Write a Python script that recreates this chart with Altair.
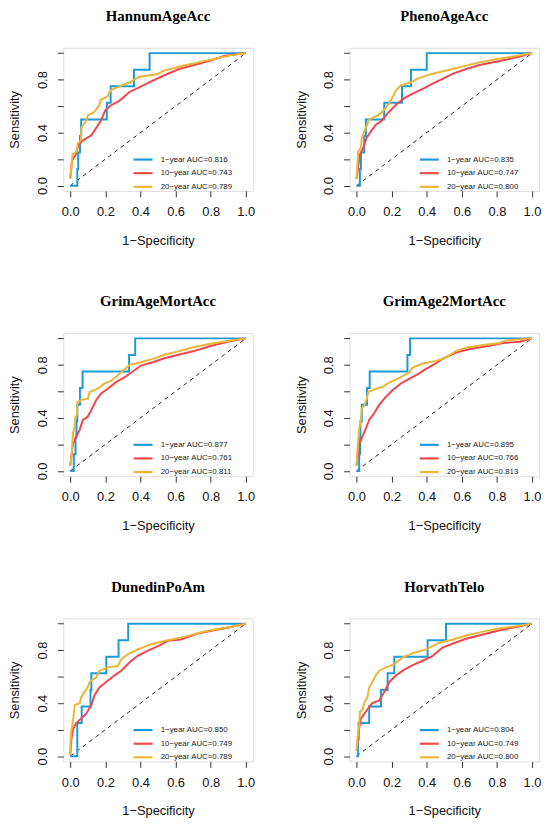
import altair as alt
import pandas as pd

BLUE = "#1C9AD6"
RED = "#EF474C"
YELLOW = "#EBB536"

titles = ["HannumAgeAcc", "PhenoAgeAcc", "GrimAgeMortAcc",
          "GrimAge2MortAcc", "DunedinPoAm", "HorvathTelo"]
auc_1y = ["0.816", "0.835", "0.877", "0.895", "0.850", "0.804"]
auc_10y = ["0.743", "0.747", "0.761", "0.766", "0.749", "0.749"]
auc_20y = ["0.789", "0.800", "0.811", "0.813", "0.789", "0.800"]

step8_y = [0, 0, 0.125, 0.125, 0.25, 0.25, 0.375, 0.375, 0.5, 0.5,
           0.625, 0.625, 0.75, 0.75, 0.875, 0.875, 1, 1]

# HannumAgeAcc
hannum_1y_x = [0, 0.04, 0.04, 0.045, 0.045, 0.055, 0.055, 0.062, 0.062, 0.208,
               0.208, 0.23, 0.23, 0.363, 0.363, 0.452, 0.452, 1]
hannum_1y_y = step8_y
hannum_10y_x = [0, 0.01, 0.03, 0.045, 0.07, 0.12, 0.145, 0.174, 0.2, 0.23,
                0.28, 0.335, 0.39, 0.467, 0.54, 0.62, 0.69, 0.79, 0.88, 1]
hannum_10y_y = [0.055, 0.19, 0.23, 0.305, 0.34, 0.38, 0.43, 0.49, 0.57, 0.605,
                0.64, 0.705, 0.74, 0.79, 0.835, 0.88, 0.905, 0.94, 0.98, 1]
hannum_20y_x = [0, 0.013, 0.036, 0.043, 0.06, 0.064, 0.09, 0.1, 0.136, 0.165,
                0.174, 0.21, 0.23, 0.29, 0.34, 0.39, 0.49, 0.54, 0.64, 0.73,
                0.83, 0.92, 1]
hannum_20y_y = [0.055, 0.24, 0.255, 0.32, 0.34, 0.44, 0.49, 0.53, 0.555, 0.605,
                0.65, 0.67, 0.72, 0.755, 0.78, 0.82, 0.84, 0.87, 0.905, 0.93,
                0.96, 0.985, 1]

# PhenoAgeAcc
pheno_1y_x = [0, 0.019, 0.019, 0.025, 0.025, 0.044, 0.044, 0.053, 0.053, 0.158,
              0.158, 0.259, 0.259, 0.31, 0.31, 0.40, 0.40, 1]
pheno_1y_y = step8_y
pheno_10y_x = [0, 0.011, 0.019, 0.038, 0.057, 0.082, 0.11, 0.14, 0.177, 0.225,
               0.272, 0.32, 0.377, 0.434, 0.49, 0.55, 0.625, 0.7, 0.815, 0.93, 1]
pheno_10y_y = [0.05, 0.16, 0.235, 0.285, 0.36, 0.41, 0.46, 0.485, 0.545, 0.61,
               0.66, 0.695, 0.73, 0.77, 0.805, 0.845, 0.88, 0.91, 0.94, 0.975, 1]
pheno_20y_x = [0, 0.01, 0.025, 0.03, 0.044, 0.057, 0.072, 0.12, 0.15, 0.187,
               0.225, 0.253, 0.31, 0.35, 0.434, 0.53, 0.606, 0.7, 0.8, 0.89, 1]
pheno_20y_y = [0.05, 0.26, 0.285, 0.36, 0.41, 0.45, 0.5, 0.53, 0.56, 0.62,
               0.72, 0.757, 0.78, 0.81, 0.845, 0.875, 0.9, 0.93, 0.955, 0.975, 1]

# GrimAgeMortAcc
grim_1y_x = [0, 0.02, 0.02, 0.03, 0.03, 0.035, 0.035, 0.04, 0.04, 0.055,
             0.055, 0.07, 0.07, 0.335, 0.335, 0.37, 0.37, 1]
grim_1y_y = step8_y
grim_10y_x = [0, 0.006, 0.015, 0.034, 0.053, 0.072, 0.1, 0.12, 0.148, 0.176,
              0.214, 0.26, 0.31, 0.356, 0.403, 0.47, 0.536, 0.61, 0.706, 0.8,
              0.896, 1]
grim_10y_y = [0.04, 0.11, 0.2, 0.26, 0.31, 0.385, 0.41, 0.46, 0.535, 0.585,
              0.62, 0.67, 0.707, 0.75, 0.795, 0.82, 0.85, 0.875, 0.905, 0.943,
              0.975, 1]
grim_20y_x = [0, 0.01, 0.015, 0.025, 0.028, 0.038, 0.04, 0.0625, 0.1, 0.11,
              0.157, 0.195, 0.233, 0.27, 0.29, 0.337, 0.403, 0.47, 0.545, 0.61,
              0.706, 0.8, 0.896, 1]
grim_20y_y = [0.04, 0.16, 0.285, 0.335, 0.4, 0.42, 0.52, 0.535, 0.545, 0.595,
              0.62, 0.66, 0.68, 0.72, 0.745, 0.8, 0.82, 0.845, 0.88, 0.9,
              0.935, 0.96, 0.98, 1]

# GrimAge2MortAcc
grim2_1y_x = [0, 0.015, 0.015, 0.02, 0.02, 0.022, 0.022, 0.03, 0.03, 0.06,
              0.06, 0.075, 0.075, 0.29, 0.29, 0.305, 0.305, 1]
grim2_1y_y = step8_y
grim2_10y_x = [0, 0.006, 0.015, 0.034, 0.053, 0.072, 0.1, 0.13, 0.168, 0.206,
               0.253, 0.3, 0.35, 0.396, 0.444, 0.49, 0.568, 0.644, 0.74, 0.834,
               0.93, 1]
grim2_10y_y = [0.04, 0.11, 0.2, 0.26, 0.32, 0.385, 0.435, 0.5, 0.56, 0.61,
               0.66, 0.695, 0.73, 0.77, 0.805, 0.845, 0.893, 0.92, 0.94, 0.965,
               0.975, 1]
grim2_20y_x = [0, 0.006, 0.015, 0.025, 0.03, 0.044, 0.057, 0.067, 0.11, 0.149,
               0.177, 0.206, 0.253, 0.3, 0.32, 0.377, 0.453, 0.51, 0.568, 0.625,
               0.72, 0.815, 0.853, 1]
grim2_20y_y = [0.04, 0.17, 0.31, 0.385, 0.47, 0.5, 0.535, 0.595, 0.62, 0.633,
               0.66, 0.68, 0.707, 0.745, 0.78, 0.81, 0.83, 0.855, 0.905, 0.93,
               0.95, 0.965, 0.985, 1]

# DunedinPoAm
dunedin_1y_x = [0, 0.04, 0.04, 0.065, 0.065, 0.115, 0.115, 0.12, 0.12, 0.205,
                0.205, 0.275, 0.275, 0.33, 0.33, 1]
dunedin_1y_y = [0, 0, 0.25, 0.25, 0.375, 0.375, 0.5, 0.5, 0.625, 0.625,
                0.75, 0.75, 0.875, 0.875, 1, 1]
dunedin_10y_x = [0, 0.006, 0.015, 0.034, 0.0625, 0.09, 0.12, 0.138, 0.167, 0.205,
                 0.252, 0.29, 0.337, 0.384, 0.44, 0.5, 0.555, 0.63, 0.725, 0.82,
                 0.915, 1]
dunedin_10y_y = [0.01, 0.125, 0.2, 0.25, 0.285, 0.32, 0.385, 0.46, 0.52, 0.56,
                 0.61, 0.645, 0.707, 0.757, 0.795, 0.83, 0.87, 0.88, 0.925, 0.95,
                 0.975, 1]
dunedin_20y_x = [0, 0.002, 0.006, 0.015, 0.025, 0.053, 0.0625, 0.08, 0.1, 0.11,
                 0.148, 0.167, 0.214, 0.27, 0.29, 0.328, 0.384, 0.46, 0.555, 0.65,
                 0.744, 0.84, 0.934, 1]
dunedin_20y_y = [0.01, 0.11, 0.19, 0.26, 0.385, 0.4, 0.445, 0.485, 0.52, 0.56,
                 0.595, 0.645, 0.67, 0.68, 0.73, 0.77, 0.805, 0.845, 0.875, 0.9,
                 0.935, 0.96, 0.98, 1]

# HorvathTelo
horvath_1y_x = [0, 0.008, 0.008, 0.012, 0.012, 0.072, 0.072, 0.139, 0.139, 0.177,
                0.177, 0.215, 0.215, 0.405, 0.405, 0.51, 0.51, 1]
horvath_1y_y = step8_y
horvath_10y_x = [0, 0.006, 0.015, 0.025, 0.053, 0.072, 0.09, 0.13, 0.158, 0.187,
                 0.225, 0.272, 0.32, 0.377, 0.434, 0.49, 0.55, 0.625, 0.72, 0.815,
                 0.91, 1]
horvath_10y_y = [0.04, 0.11, 0.21, 0.285, 0.335, 0.372, 0.4, 0.42, 0.485, 0.56,
                 0.61, 0.653, 0.687, 0.72, 0.757, 0.82, 0.85, 0.886, 0.918, 0.95,
                 0.975, 1]
horvath_20y_x = [0, 0.006, 0.015, 0.019, 0.034, 0.044, 0.063, 0.072, 0.09, 0.11,
                 0.13, 0.168, 0.215, 0.263, 0.32, 0.396, 0.472, 0.55, 0.625, 0.72,
                 0.815, 0.91, 1]
horvath_20y_y = [0.04, 0.14, 0.235, 0.335, 0.35, 0.4, 0.45, 0.52, 0.56, 0.61,
                 0.645, 0.67, 0.695, 0.745, 0.777, 0.806, 0.856, 0.88, 0.91, 0.94,
                 0.965, 0.98, 1]

curves = [
    [(hannum_1y_x, hannum_1y_y), (hannum_10y_x, hannum_10y_y), (hannum_20y_x, hannum_20y_y)],
    [(pheno_1y_x, pheno_1y_y), (pheno_10y_x, pheno_10y_y), (pheno_20y_x, pheno_20y_y)],
    [(grim_1y_x, grim_1y_y), (grim_10y_x, grim_10y_y), (grim_20y_x, grim_20y_y)],
    [(grim2_1y_x, grim2_1y_y), (grim2_10y_x, grim2_10y_y), (grim2_20y_x, grim2_20y_y)],
    [(dunedin_1y_x, dunedin_1y_y), (dunedin_10y_x, dunedin_10y_y), (dunedin_20y_x, dunedin_20y_y)],
    [(horvath_1y_x, horvath_1y_y), (horvath_10y_x, horvath_10y_y), (horvath_20y_x, horvath_20y_y)],
]

tick_vals = [0, 0.2, 0.4, 0.6, 0.8, 1.0]
diag_x = [0, 1]
diag_y = [0, 1]

PW, PH = 192, 145
SANS = "Liberation Sans"
SERIF = "Liberation Serif"

xscale = alt.Scale(domain=[-0.04, 1.04], nice=False, zero=False)
yscale = alt.Scale(domain=[-0.04, 1.04], nice=False, zero=False)

xaxis = alt.Axis(values=tick_vals, format=".1f", title="1\u2212Specificity",
                 grid=False, domain=False, tickSize=6, tickColor="#333",
                 labelFontSize=13, labelPadding=9, labelFont=SANS,
                 labelColor="#111", labelFlush=False, labelOverlap=False,
                 titleFontSize=13, titleFontWeight="normal", titleFont=SANS,
                 titleColor="#111", titlePadding=16)
yaxis = alt.Axis(values=tick_vals, format=".1f", title="Sensitivity",
                 labelExpr="indexof(['0.0','0.4','0.8'], datum.label) >= 0 ? datum.label : ''",
                 grid=False, domain=False, tickSize=6, tickColor="#333",
                 labelFontSize=13, labelPadding=8, labelFont=SANS,
                 labelColor="#111", labelAngle=270, labelAlign="center",
                 labelBaseline="bottom", labelFlush=False, labelOverlap=False,
                 titleFontSize=13, titleFontWeight="normal", titleFont=SANS,
                 titleColor="#111", titlePadding=15)


def make_panel(i):
    labels = [f"1\u2212year AUC={auc_1y[i]}",
              f"10\u2212year AUC={auc_10y[i]}",
              f"20\u2212year AUC={auc_20y[i]}"]
    rows = []
    for (xs, ys), lab in zip(curves[i], labels):
        for k, (a, b) in enumerate(zip(xs, ys)):
            rows.append({"fpr": a, "tpr": b, "series": lab, "idx": k})
    df = pd.DataFrame(rows)

    X = alt.X("fpr:Q", scale=xscale, axis=xaxis)
    Y = alt.Y("tpr:Q", scale=yscale, axis=yaxis)

    legend = alt.Legend(orient="none", legendX=75.3, legendY=107.7, title=None,
                        symbolType="M-2.4,0H2.4", symbolSize=64,
                        symbolStrokeWidth=2.2, labelFontSize=8, labelFont=SANS,
                        labelColor="#222", labelOffset=12.4, rowPadding=3.8,
                        padding=0, labelLimit=0)
    cscale = alt.Scale(domain=labels, range=[BLUE, RED, YELLOW])

    diag = alt.Chart(pd.DataFrame({"fpr": diag_x, "tpr": diag_y})).mark_line(
        strokeDash=[4, 4], color="#222", strokeWidth=1).encode(x=X, y=Y)

    layers = [diag]
    for lab in labels:
        layers.append(
            alt.Chart(df).transform_filter(alt.datum.series == lab)
            .mark_line(strokeWidth=2)
            .encode(x=X, y=Y,
                    color=alt.Color("series:N", scale=cscale, legend=legend),
                    order="idx:Q")
        )
    return alt.layer(*layers).properties(
        width=PW, height=PH,
        title=alt.TitleParams(text=titles[i], font=SERIF, fontSize=15,
                              fontWeight="bold", color="#000", offset=24,
                              anchor="middle"))


panels = [make_panel(i) for i in range(6)]

chart = alt.concat(*panels, columns=2, spacing={"row": 144, "column": 98},
                   bounds="flush").resolve_scale(color="independent").resolve_legend(
    color="independent").properties(
    padding={"top": -5, "left": 0, "right": 0, "bottom": 0}).configure_view(
    stroke="#444", strokeWidth=1).configure(font=SANS, background="white")

chart.save("out.html", embed_options={"renderer": "svg", "actions": False})
